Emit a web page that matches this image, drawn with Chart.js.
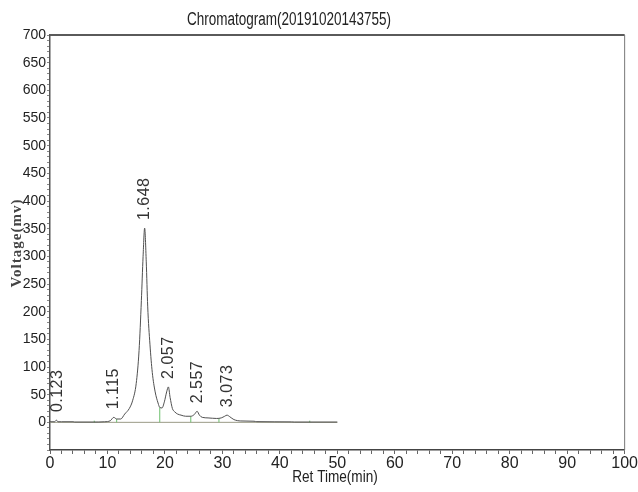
<!DOCTYPE html>
<html>
<head>
<meta charset="utf-8">
<script src="https://cdn.jsdelivr.net/npm/chart.js@4/dist/chart.umd.min.js"></script>
<style>
  body { margin: 0; background: #fff; }
  #wrap { width: 638px; height: 492px; }
</style>
</head>
<body>
<div id="wrap"><canvas id="chromatogram"></canvas></div>
<script>
// trace (ret time in min, voltage in mv)
const retTimes = [0, 0.8, 1.1, 1.4, 2, 4, 4.3, 7.5, 9.5, 10.5, 11.1, 11.6, 12.3, 13.0, 13.8, 14.4, 15.0, 15.5, 15.9, 16.2, 16.47, 16.75, 17.0, 17.4, 17.8, 18.3, 18.8, 19.1, 19.5, 19.9, 20.3, 20.6, 20.9, 21.3, 21.7, 22.2, 22.8, 23.6, 24.5, 25.1, 25.6, 26.0, 26.5, 27.5, 29.0, 29.8, 30.4, 30.8, 31.3, 32.0, 33.2, 35.5, 36.0, 42.0, 42.5, 50];
const voltages = [1, 1, 4, 1, 1, 1, 0.5, 0.5, 1, 3, 9, 6, 6, 15, 25, 40, 70, 130, 220, 300, 351, 290, 210, 140, 90, 55, 35, 27, 26, 37, 55, 64, 45, 25, 19, 15, 13, 11, 11, 14, 20, 13, 9, 8, 7, 8, 11, 13, 10, 5, 2.5, 2, 1.2, 0.8, 0.5, 0.5];

// peak labels
const peakNames = ["0.123", "1.115", "1.648", "2.057", "2.557", "3.073"];
const peakTimes = [1.3, 11.1, 16.47, 20.6, 25.7, 30.9];
const peakHeights = [4, 9, 351, 64, 20, 13];

// peak boundary drop lines
const dropTimes = [7.7, 11.6, 19.1, 24.5, 29.4, 45.2];
const dropHeights = [3, 6, 27, 11, 7, 3];

const baseTimes = [0, 50];
const baseValues = [0, 0];

const xTicks = [0, 10, 20, 30, 40, 50, 60, 70, 80, 90, 100];
const yTicks = [0, 50, 100, 150, 200, 250, 300, 350, 400, 450, 500, 550, 600, 650, 700];

const sans = "'Liberation Sans', Arial, sans-serif";

const traceData = retTimes.map((t, i) => ({ x: t, y: voltages[i] }));
const baseData = baseTimes.map((t, i) => ({ x: t, y: baseValues[i] }));
let dropData = [];
dropTimes.forEach((t, i) => {
  dropData.push({ x: t, y: 0 }, { x: t, y: dropHeights[i] }, { x: t, y: null });
});

// narrow-looking text: squeeze horizontally
function condensedText(ctx, text, x, y, squeeze) {
  ctx.save();
  ctx.translate(x, y);
  ctx.scale(squeeze, 1);
  ctx.fillText(text, 0, 0);
  ctx.restore();
}

// title, axis titles, frame and peak labels
const decorPlugin = {
  id: "decor",
  afterDraw(chart) {
    const ctx = chart.ctx;
    const area = chart.chartArea;
    const xs = chart.scales.x;
    const ys = chart.scales.y;
    ctx.save();

    // top and right frame lines
    ctx.strokeStyle = "#5a5a5a";
    ctx.lineWidth = 2;
    ctx.beginPath();
    ctx.moveTo(area.left, area.top);
    ctx.lineTo(area.right, area.top);
    ctx.stroke();
    ctx.strokeStyle = "#777";
    ctx.lineWidth = 1;
    ctx.beginPath();
    ctx.moveTo(area.right, area.top);
    ctx.lineTo(area.right, area.bottom);
    ctx.stroke();

    ctx.fillStyle = "#222";
    ctx.textBaseline = "middle";
    ctx.textAlign = "center";
    ctx.font = "18px " + sans;
    condensedText(ctx, "Chromatogram(20191020143755)", 289, 20, 0.75);
    ctx.font = "17px " + sans;
    condensedText(ctx, "Ret Time(min)", 335, 477, 0.8);

    ctx.save();
    ctx.translate(17, 243);
    ctx.rotate(-Math.PI / 2);
    ctx.font = "bold 15px 'Liberation Serif', 'Times New Roman', serif";
    ctx.letterSpacing = "1px";
    ctx.fillStyle = "#444";
    ctx.fillText("Voltage(mv)", 0, 0);
    ctx.restore();

    // rotated peak labels
    ctx.font = "16px " + sans;
    ctx.fillStyle = "#333";
    ctx.textAlign = "left";
    ctx.letterSpacing = "0.5px";
    peakNames.forEach((name, i) => {
      const px = xs.getPixelForValue(peakTimes[i]);
      const py = ys.getPixelForValue(peakHeights[i]) - 8;
      ctx.save();
      ctx.translate(px, py);
      ctx.rotate(-Math.PI / 2);
      ctx.fillText(name, 0, 0);
      ctx.restore();
    });
    ctx.restore();
  }
};

const ctx = document.getElementById("chromatogram").getContext("2d");

new Chart(ctx, {
  type: "line",
  data: {
    datasets: [
      {
        label: "baseline",
        data: baseData,
        borderColor: "#9a9a86",
        borderWidth: 1,
        pointRadius: 0,
        order: 3
      },
      {
        label: "drops",
        data: dropData,
        borderColor: "#6cbf6c",
        borderWidth: 1,
        pointRadius: 0,
        spanGaps: false,
        order: 2
      },
      {
        label: "trace",
        data: traceData,
        borderColor: "#505050",
        borderWidth: 1,
        pointRadius: 0,
        cubicInterpolationMode: "monotone",
        order: 1
      }
    ]
  },
  options: {
    responsive: true,
    maintainAspectRatio: false,
    animation: false,
    layout: { padding: { top: 35, right: 10, left: 0, bottom: 0 } },
    plugins: {
      legend: { display: false },
      tooltip: { enabled: false },
      title: { display: false }
    },
    scales: {
      x: {
        type: "linear",
        min: 0,
        max: 100,
        afterFit: (scale) => { scale.height = 42; },
        afterBuildTicks: (scale) => {
          let t = [];
          for (let v = 0; v <= 100; v += 2) t.push({ value: v });
          scale.ticks = t;
        },
        ticks: {
          autoSkip: false,
          maxRotation: 0,
          padding: 0,
          color: "#222",
          font: { family: sans, size: 16 },
          callback: (v) => xTicks.includes(v) ? String(v) : ""
        },
        grid: {
          drawOnChartArea: false,
          tickLength: 4,
          tickColor: "#666"
        },
        border: { color: "#444", width: 1.5 }
      },
      y: {
        type: "linear",
        min: -50,
        max: 700,
        afterFit: (scale) => { scale.width = 50; },
        afterBuildTicks: (scale) => {
          let t = [];
          for (let v = -50; v <= 700; v += 10) t.push({ value: v });
          scale.ticks = t;
        },
        ticks: {
          autoSkip: false,
          padding: 1,
          color: "#222",
          font: { family: sans, size: 14 },
          callback: (v) => yTicks.includes(v) ? String(v) : ""
        },
        grid: {
          drawOnChartArea: false,
          tickLength: 3,
          tickColor: "#888"
        },
        border: { color: "#555", width: 1.5 }
      }
    }
  },
  plugins: [decorPlugin]
});
</script>
</body>
</html>
